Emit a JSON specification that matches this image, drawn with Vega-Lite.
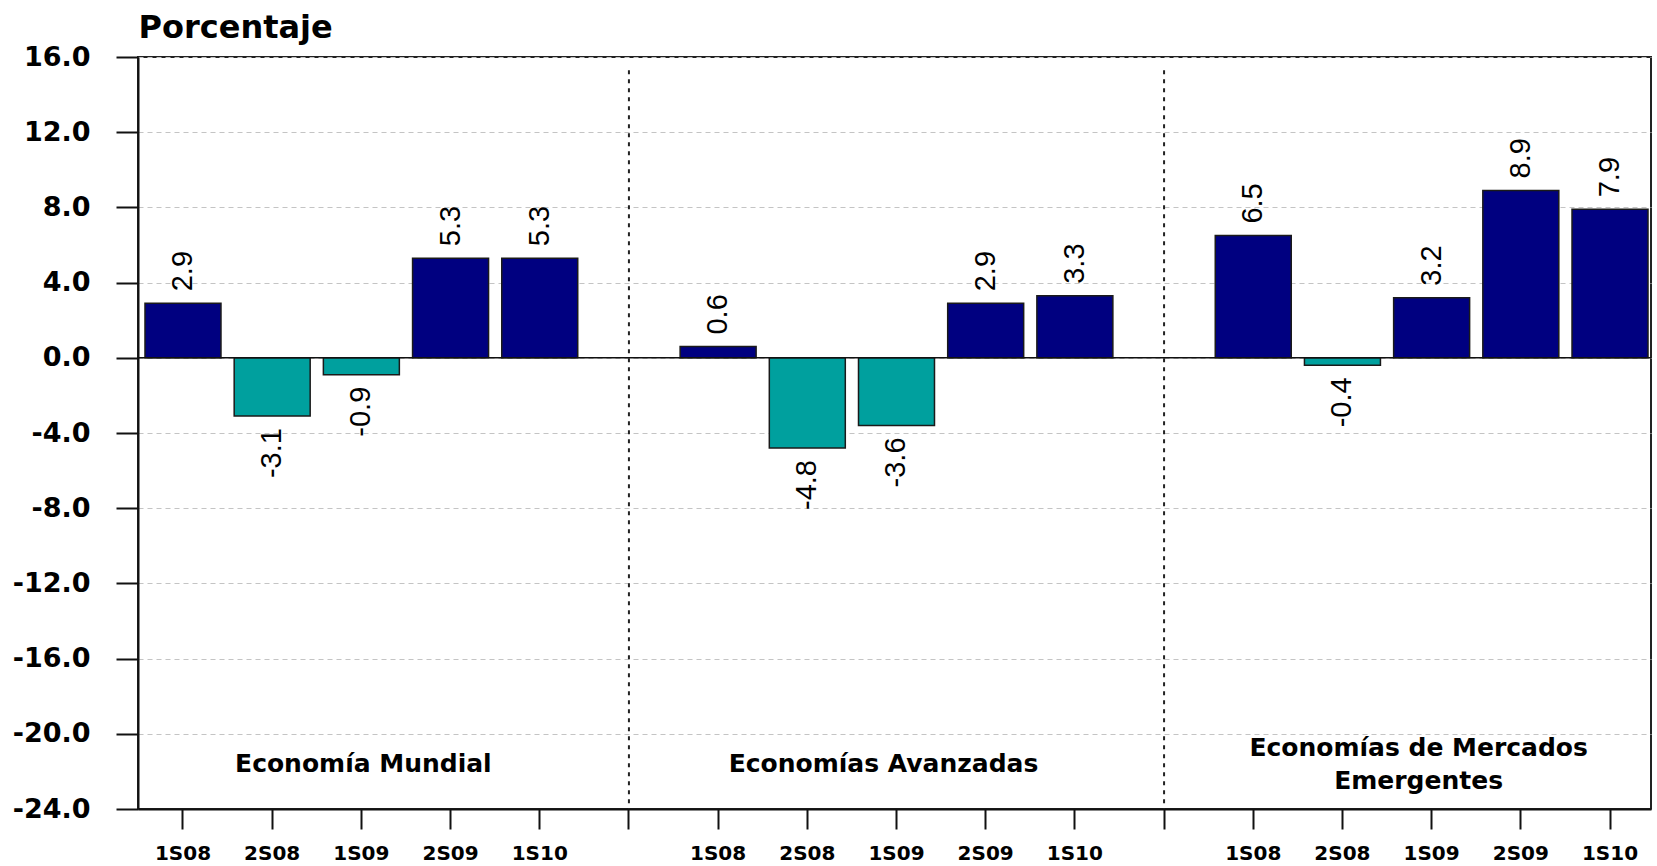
{
  "$schema": "https://vega.github.io/schema/vega-lite/v6.json",
  "width": 1513,
  "height": 752,
  "autosize": {"type": "none"},
  "padding": {"left": 138, "top": 57, "right": 6, "bottom": 57},
  "background": "white",
  "config": {
    "view": {"stroke": "#222222", "strokeWidth": 2},
    "locale": {
      "number": {
        "decimal": ".",
        "thousands": ",",
        "grouping": [3],
        "currency": ["$", ""],
        "minus": "-"
      }
    }
  },
  "datasets": {
    "barras": [
      {"grupo": "Mundial", "periodo": "1S08", "slot": "Mundial 1S08", "valor": 2.9},
      {"grupo": "Mundial", "periodo": "2S08", "slot": "Mundial 2S08", "valor": -3.1},
      {"grupo": "Mundial", "periodo": "1S09", "slot": "Mundial 1S09", "valor": -0.9},
      {"grupo": "Mundial", "periodo": "2S09", "slot": "Mundial 2S09", "valor": 5.3},
      {"grupo": "Mundial", "periodo": "1S10", "slot": "Mundial 1S10", "valor": 5.3},
      {"grupo": "Avanzadas", "periodo": "1S08", "slot": "Avanzadas 1S08", "valor": 0.6},
      {"grupo": "Avanzadas", "periodo": "2S08", "slot": "Avanzadas 2S08", "valor": -4.8},
      {"grupo": "Avanzadas", "periodo": "1S09", "slot": "Avanzadas 1S09", "valor": -3.6},
      {"grupo": "Avanzadas", "periodo": "2S09", "slot": "Avanzadas 2S09", "valor": 2.9},
      {"grupo": "Avanzadas", "periodo": "1S10", "slot": "Avanzadas 1S10", "valor": 3.3},
      {"grupo": "Emergentes", "periodo": "1S08", "slot": "Emergentes 1S08", "valor": 6.5},
      {"grupo": "Emergentes", "periodo": "2S08", "slot": "Emergentes 2S08", "valor": -0.4},
      {"grupo": "Emergentes", "periodo": "1S09", "slot": "Emergentes 1S09", "valor": 3.2},
      {"grupo": "Emergentes", "periodo": "2S09", "slot": "Emergentes 2S09", "valor": 8.9},
      {"grupo": "Emergentes", "periodo": "1S10", "slot": "Emergentes 1S10", "valor": 7.9}
    ],
    "separadores": [
      {"slot": "sep1"},
      {"slot": "sep2"}
    ],
    "grupos": [
      {"slot": "Mundial 1S09", "texto": "Economía Mundial", "orden": 1},
      {"slot": "Avanzadas 1S09", "texto": "Economías Avanzadas", "orden": 2},
      {"slot": "Emergentes 1S09", "texto": "Economías de Mercados\nEmergentes", "orden": 3}
    ]
  },
  "encoding": {
    "x": {
      "field": "slot",
      "type": "nominal",
      "sort": null,
      "scale": {
        "domain": [
          "Mundial 1S08", "Mundial 2S08", "Mundial 1S09", "Mundial 2S09", "Mundial 1S10",
          "sep1",
          "Avanzadas 1S08", "Avanzadas 2S08", "Avanzadas 1S09", "Avanzadas 2S09", "Avanzadas 1S10",
          "sep2",
          "Emergentes 1S08", "Emergentes 2S08", "Emergentes 1S09", "Emergentes 2S09", "Emergentes 1S10"
        ],
        "paddingInner": 0.148,
        "paddingOuter": 0.056,
        "align": 0.7
      },
      "axis": {
        "title": null,
        "labelExpr": "(datum.value == 'sep1' || datum.value == 'sep2') ? '' : split(datum.value, ' ')[1]",
        "labelAngle": 0,
        "labelFont": "DejaVu Sans",
        "labelFontWeight": "bold",
        "labelFontSize": 20,
        "labelColor": "#000000",
        "labelPadding": 14,
        "domainColor": "#111111",
        "domainWidth": 2,
        "tickColor": "#111111",
        "tickWidth": 2,
        "tickSize": 20,
        "grid": false
      }
    }
  },
  "layer": [
    {
      "data": {"name": "barras"},
      "mark": {"type": "bar", "stroke": "#1a1a1a", "strokeWidth": 1.5},
      "encoding": {
        "y": {
          "field": "valor",
          "type": "quantitative",
          "scale": {"domain": [-24, 16], "nice": false, "zero": false},
          "axis": {
            "title": "Porcentaje",
            "titleAngle": 0,
            "titleAlign": "left",
            "titleBaseline": "alphabetic",
            "titleX": 0,
            "titleY": -20,
            "titleFont": "DejaVu Sans",
            "titleFontSize": 32,
            "titleFontWeight": "bold",
            "titleColor": "#000000",
            "values": [-24, -20, -16, -12, -8, -4, 0, 4, 8, 12, 16],
            "format": ".1f",
            "labelFont": "DejaVu Sans",
            "labelFontWeight": "bold",
            "labelFontSize": 27,
            "labelColor": "#000000",
            "labelPadding": 26,
            "tickSize": 22,
            "tickColor": "#111111",
            "tickWidth": 2,
            "domainColor": "#111111",
            "domainWidth": 2,
            "grid": true,
            "gridColor": "#c4c4c4",
            "gridDash": [5, 4],
            "gridWidth": 1.2
          }
        },
        "y2": {"datum": 0},
        "color": {
          "condition": {"test": "datum.valor < 0", "value": "#00A09E"},
          "value": "#000080"
        }
      }
    },
    {
      "data": {"values": [{}]},
      "mark": {"type": "rule", "color": "#111111", "strokeWidth": 1.6},
      "encoding": {
        "x": {"value": 0},
        "x2": {"value": 1513},
        "y": {"datum": 0}
      }
    },
    {
      "data": {"name": "separadores"},
      "mark": {"type": "rule", "color": "#222222", "strokeWidth": 2, "strokeDash": [4, 5]},
      "encoding": {
        "y": {"datum": 15.3},
        "y2": {"datum": -24}
      }
    },
    {
      "data": {"name": "barras"},
      "transform": [{"filter": "datum.valor >= 0"}],
      "mark": {
        "type": "text",
        "angle": 270,
        "align": "left",
        "baseline": "middle",
        "dx": 12,
        "font": "Liberation Sans",
        "fontSize": 29,
        "color": "#000000"
      },
      "encoding": {
        "y": {"field": "valor", "type": "quantitative"},
        "text": {"field": "valor", "type": "quantitative", "format": ".1f"}
      }
    },
    {
      "data": {"name": "barras"},
      "transform": [{"filter": "datum.valor < 0"}],
      "mark": {
        "type": "text",
        "angle": 270,
        "align": "right",
        "baseline": "middle",
        "dx": -12,
        "font": "Liberation Sans",
        "fontSize": 29,
        "color": "#000000"
      },
      "encoding": {
        "y": {"field": "valor", "type": "quantitative"},
        "text": {"field": "valor", "type": "quantitative", "format": ".1f"}
      }
    },
    {
      "data": {"name": "grupos"},
      "transform": [{"filter": "datum.orden == 1"}],
      "mark": {
        "type": "text",
        "align": "center",
        "baseline": "middle",
        "dx": 2,
        "font": "DejaVu Sans",
        "fontWeight": "bold",
        "fontSize": 25,
        "color": "#000000"
      },
      "encoding": {
        "y": {"datum": -21.6},
        "text": {"field": "texto", "type": "nominal"}
      }
    },
    {
      "data": {"name": "grupos"},
      "transform": [{"filter": "datum.orden == 2"}],
      "mark": {
        "type": "text",
        "align": "center",
        "baseline": "middle",
        "dx": -13,
        "font": "DejaVu Sans",
        "fontWeight": "bold",
        "fontSize": 25,
        "color": "#000000"
      },
      "encoding": {
        "y": {"datum": -21.6},
        "text": {"field": "texto", "type": "nominal"}
      }
    },
    {
      "data": {"name": "grupos"},
      "transform": [{"filter": "datum.orden == 3"}],
      "mark": {
        "type": "text",
        "align": "center",
        "baseline": "middle",
        "dx": -13,
        "dy": -16,
        "font": "DejaVu Sans",
        "fontWeight": "bold",
        "fontSize": 25,
        "lineHeight": 33,
        "lineBreak": "\n",
        "color": "#000000"
      },
      "encoding": {
        "y": {"datum": -21.6},
        "text": {"field": "texto", "type": "nominal"}
      }
    }
  ]
}
